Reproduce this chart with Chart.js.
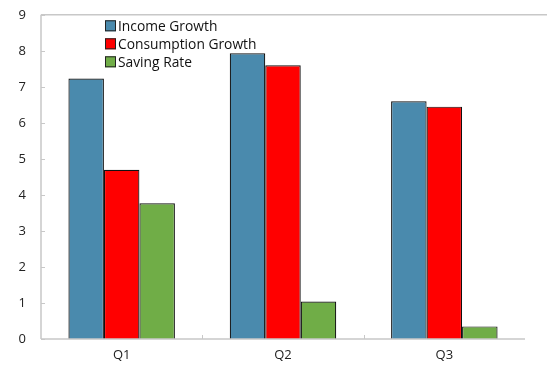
<!DOCTYPE html>
<html>
<head>
<meta charset="utf-8">
<script src="https://cdn.jsdelivr.net/npm/chart.js@4"></script>
<style>
  html, body { margin: 0; padding: 0; background: #fff; overflow: hidden; }
  #wrap { width: 547px; height: 375px; margin-top: -8px; }
</style>
</head>
<body>
<div id="wrap"><canvas id="myChart"></canvas></div>
<script>
// Datos
const quarters    = ["Q1", "Q2", "Q3"];
const incomeGrowth = [7.23, 7.93, 6.6];
const consGrowth   = [4.7, 7.6, 6.45];
const savingRate   = [3.77, 1.04, 0.35];
const yTicks       = [0, 1, 2, 3, 4, 5, 6, 7, 8, 9];

const fontFam = "'Open Sans', 'Noto Sans', sans-serif";

// marcas de ejes (hacia adentro), borde superior y leyenda dentro del area
const extras = {
  id: "extras",
  afterDraw(chart) {
    const ctx = chart.ctx;
    const a = chart.chartArea;
    const x = chart.scales.x, y = chart.scales.y;
    ctx.save();
    ctx.strokeStyle = "#c8c8c8";
    ctx.lineWidth = 1.5;
    ctx.beginPath();
    ctx.moveTo(a.left, a.top); ctx.lineTo(chart.width, a.top);
    ctx.moveTo(a.left, a.top); ctx.lineTo(a.left, a.bottom);
    ctx.moveTo(a.left, a.bottom); ctx.lineTo(a.right, a.bottom);
    ctx.stroke();
    ctx.lineWidth = 1;
    ctx.beginPath();
    yTicks.forEach(v => {
      const py = Math.round(y.getPixelForValue(v)) + 0.5;
      ctx.moveTo(a.left, py); ctx.lineTo(a.left + 4, py);
    });
    for (let i = 1; i < quarters.length; i++) {
      const px = Math.round((x.getPixelForValue(i - 1) + x.getPixelForValue(i)) / 2) + 0.5;
      ctx.moveTo(px, a.bottom); ctx.lineTo(px, a.bottom - 4);
    }
    ctx.stroke();

    // leyenda
    ctx.font = "13.8px " + fontFam;
    ctx.textBaseline = "middle";
    chart.data.datasets.forEach((ds, i) => {
      const cy = a.top + 11 + i * 18;
      ctx.fillStyle = ds.backgroundColor;
      ctx.fillRect(105, cy - 5.5, 11, 11);
      ctx.strokeStyle = "#222";
      ctx.strokeRect(105.5, cy - 5, 10, 10);
      ctx.fillStyle = "#111";
      ctx.fillText(ds.label, 118, cy + 1);
    });
    ctx.restore();
  }
};

function renderGrafica() {
  const datasets = [
    { label: "Income Growth", data: incomeGrowth, backgroundColor: "#4a8aad" },
    { label: "Consumption Growth", data: consGrowth, backgroundColor: "#ff0000" },
    { label: "Saving Rate", data: savingRate, backgroundColor: "#70ad47" }
  ].map(d => Object.assign(d, {
    borderColor: "#111", borderWidth: 1.2, borderSkipped: "bottom",
    categoryPercentage: 0.66, barPercentage: 1
  }));

  const config = {
    type: "bar",
    data: { labels: quarters, datasets },
    options: {
      responsive: true,
      maintainAspectRatio: false,
      animation: false,
      layout: { padding: { left: 0, top: 6, right: 22, bottom: 0 } },
      plugins: { legend: { display: false }, tooltip: { enabled: false } },
      scales: {
        x: {
          grid: { display: false, drawTicks: false },
          border: { display: false },
          ticks: { padding: 8, color: "#222", font: { family: fontFam, size: 13 } },
          afterFit: s => { s.height = 28; }
        },
        y: {
          min: 0, max: 9,
          afterBuildTicks: s => { s.ticks = yTicks.map(v => ({ value: v })); },
          grid: { display: false, drawTicks: false },
          border: { display: false },
          ticks: { padding: 15, color: "#222", font: { family: fontFam, size: 13 } },
          afterFit: s => { s.width = 41; }
        }
      }
    },
    plugins: [extras]
  };
  new Chart(document.getElementById("myChart"), config);
}
renderGrafica();
</script>
</body>
</html>
